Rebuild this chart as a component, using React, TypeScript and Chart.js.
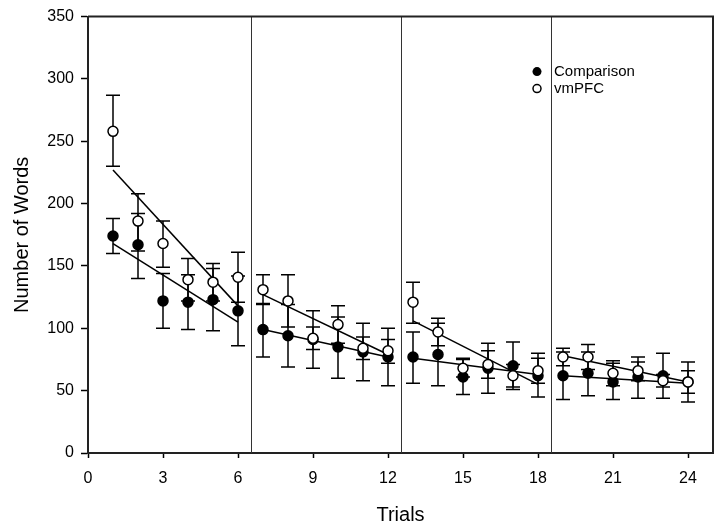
import React, { useEffect, useRef } from "react";
import { Chart, registerables } from "chart.js";

Chart.register(...registerables);

// ---- Data ----
const trials = [1, 2, 3, 4, 5, 6, 7, 8, 9, 10, 11, 12, 13, 14, 15, 16, 17, 18, 19, 20, 21, 22, 23, 24];

const comparisonMean = [174, 167, 122, 121, 123, 114, 99, 94, 91, 85, 81, 77, 77, 79, 61, 68, 70, 62, 62, 64, 57, 61, 62, 57];
const comparisonLow = [160, 140, 100, 99, 98, 86, 77, 69, 68, 60, 58, 54, 56, 54, 47, 48, 51, 45, 43, 46, 43, 44, 44, 48];
const comparisonHigh = [188, 192, 144, 143, 148, 142, 120, 119, 114, 109, 104, 100, 97, 104, 75, 88, 89, 80, 81, 81, 72, 77, 80, 66];

const vmpfcMean = [258, 186, 168, 139, 137, 141, 131, 122, 92, 103, 84, 82, 121, 97, 68, 71, 62, 66, 77, 77, 64, 66, 58, 57];
const vmpfcLow = [230, 162, 149, 122, 122, 121, 119, 101, 83, 88, 75, 72, 104, 86, 61, 60, 53, 56, 70, 67, 54, 58, 53, 41];
const vmpfcHigh = [287, 208, 186, 156, 152, 161, 143, 143, 101, 118, 93, 91, 137, 108, 76, 82, 71, 76, 84, 87, 74, 73, 63, 73];

// Fitted lines per block: [start trial, end trial] and [start value, end value]
const trendTrials = [[1, 6], [7, 12], [13, 18], [19, 24]];
const comparisonTrend = [[168, 105], [99, 77], [76, 63], [62, 56]];
const vmpfcTrend = [[227, 118], [127, 79], [106, 55], [78, 57]];

const blockDividers = [6.5, 12.5, 18.5];
const xTicks = [0, 3, 6, 9, 12, 15, 18, 21, 24];
const yTicks = [0, 50, 100, 150, 200, 250, 300, 350];
const seriesNames = ["Comparison", "vmPFC"];

const FONT = "'Liberation Sans', Arial, sans-serif";

export default function App() {
  const ref = useRef<HTMLCanvasElement>(null);

  useEffect(() => {
    document.body.style.margin = "0";
    const canvas = ref.current;
    if (!canvas) return;

    const pts = (m: number[]) => trials.map((t, i) => ({ x: t, y: m[i] }));

    const trendSets: any[] = [];
    trendTrials.forEach((seg, k) => {
      trendSets.push({
        type: "line",
        label: "vmPFC fit " + k,
        data: [
          { x: seg[0], y: vmpfcTrend[k][0] },
          { x: seg[1], y: vmpfcTrend[k][1] },
        ],
        borderColor: "#000",
        borderWidth: 1.5,
        pointRadius: 0,
        fill: false,
      });
      trendSets.push({
        type: "line",
        label: "Comparison fit " + k,
        data: [
          { x: seg[0], y: comparisonTrend[k][0] },
          { x: seg[1], y: comparisonTrend[k][1] },
        ],
        borderColor: "#000",
        borderWidth: 1.5,
        pointRadius: 0,
        fill: false,
      });
    });

    const errorBars = {
      id: "errorBars",
      beforeDatasetsDraw(chart: any) {
        const { ctx, chartArea, scales } = chart;
        const xs = scales.x;
        const ys = scales.y;
        ctx.save();
        // block dividers
        ctx.strokeStyle = "#333";
        ctx.lineWidth = 1;
        blockDividers.forEach((d) => {
          const px = Math.round(xs.getPixelForValue(d)) + 0.5;
          ctx.beginPath();
          ctx.moveTo(px, chartArea.top);
          ctx.lineTo(px, chartArea.bottom);
          ctx.stroke();
        });
        // error bars
        ctx.strokeStyle = "#000";
        ctx.lineWidth = 1.5;
        const cap = 7;
        const drawBars = (low: number[], high: number[]) => {
          trials.forEach((t, i) => {
            const px = xs.getPixelForValue(t);
            const yl = ys.getPixelForValue(low[i]);
            const yh = ys.getPixelForValue(high[i]);
            ctx.beginPath();
            ctx.moveTo(px, yl);
            ctx.lineTo(px, yh);
            ctx.moveTo(px - cap, yl);
            ctx.lineTo(px + cap, yl);
            ctx.moveTo(px - cap, yh);
            ctx.lineTo(px + cap, yh);
            ctx.stroke();
          });
        };
        drawBars(comparisonLow, comparisonHigh);
        drawBars(vmpfcLow, vmpfcHigh);
        ctx.restore();
      },
      afterDraw(chart: any) {
        const { ctx, chartArea } = chart;
        ctx.save();
        // frame top & right
        ctx.strokeStyle = "#222";
        ctx.lineWidth = 2;
        ctx.beginPath();
        ctx.moveTo(chartArea.left, chartArea.top);
        ctx.lineTo(chartArea.right, chartArea.top);
        ctx.lineTo(chartArea.right, chartArea.bottom);
        ctx.stroke();
        // legend
        const lx = chartArea.left + 449;
        const ly = chartArea.top + 55;
        const gap = 17;
        ctx.lineWidth = 1.5;
        ctx.beginPath();
        ctx.arc(lx, ly, 4.5, 0, Math.PI * 2);
        ctx.fillStyle = "#000";
        ctx.fill();
        ctx.beginPath();
        ctx.arc(lx, ly + gap, 4, 0, Math.PI * 2);
        ctx.fillStyle = "#fff";
        ctx.fill();
        ctx.strokeStyle = "#000";
        ctx.stroke();
        ctx.fillStyle = "#000";
        ctx.font = "15px " + FONT;
        ctx.textBaseline = "middle";
        ctx.textAlign = "left";
        ctx.fillText(seriesNames[0], lx + 17, ly);
        ctx.fillText(seriesNames[1], lx + 17, ly + gap);
        ctx.restore();
      },
    };

    const chart = new Chart(canvas, {
      type: "scatter",
      data: {
        datasets: [
          {
            label: seriesNames[1],
            data: pts(vmpfcMean),
            backgroundColor: "#fff",
            borderColor: "#000",
            borderWidth: 1.5,
            pointRadius: 5,
            showLine: false,
          },
          {
            label: seriesNames[0],
            data: pts(comparisonMean),
            backgroundColor: "#000",
            borderColor: "#000",
            borderWidth: 1.5,
            pointRadius: 5,
            showLine: false,
          },
          ...trendSets,
        ] as any,
      },
      options: {
        responsive: false,
        animation: false,
        devicePixelRatio: 1,
        layout: { padding: { top: 16, right: 10, left: 0, bottom: 0 } },
        plugins: {
          legend: { display: false },
          tooltip: { enabled: false },
        },
        scales: {
          x: {
            type: "linear",
            min: 0,
            max: 25,
            afterBuildTicks: (axis: any) => {
              axis.ticks = xTicks.map((v) => ({ value: v }));
            },
            afterFit: (axis: any) => {
              axis.height = 77;
            },
            ticks: {
              color: "#000",
              font: { family: FONT, size: 16 },
              padding: 11,
              maxRotation: 0,
              autoSkip: false,
            },
            grid: {
              drawOnChartArea: false,
              drawTicks: true,
              tickLength: 5,
              tickWidth: 1.5,
              tickColor: "#000",
            },
            border: { display: true, color: "#222", width: 2 },
            title: {
              display: true,
              text: "Trials",
              color: "#000",
              font: { family: FONT, size: 20 },
              padding: { top: 0, bottom: 3 },
            },
          },
          y: {
            type: "linear",
            min: 0,
            max: 350,
            afterBuildTicks: (axis: any) => {
              axis.ticks = yTicks.map((v) => ({ value: v }));
            },
            afterFit: (axis: any) => {
              axis.width = 88;
            },
            ticks: {
              color: "#000",
              font: { family: FONT, size: 16 },
              padding: 7,
              autoSkip: false,
            },
            grid: {
              drawOnChartArea: false,
              drawTicks: true,
              tickLength: 7,
              tickWidth: 1.5,
              tickColor: "#000",
            },
            border: { display: true, color: "#222", width: 2 },
            title: {
              display: true,
              text: "Number of Words",
              color: "#000",
              font: { family: FONT, size: 20 },
              padding: { top: 10, bottom: 0 },
            },
          },
        },
      },
      plugins: [errorBars],
    });

    return () => chart.destroy();
  }, []);

  return <canvas ref={ref} width={723} height={530} style={{ display: "block" }} />;
}
